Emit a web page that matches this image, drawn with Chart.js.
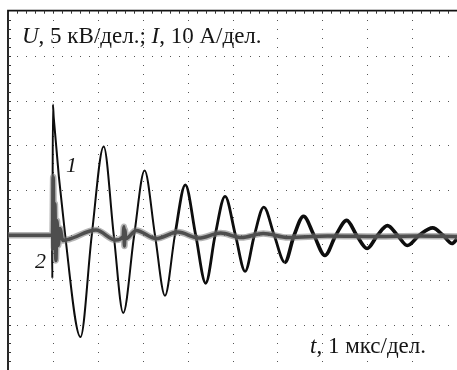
<!DOCTYPE html>
<html lang="ru">
<head>
<meta charset="UTF-8">
<title>Осциллограмма U, I</title>
<script src="https://cdn.jsdelivr.net/npm/chart.js"></script>
<style>
  html, body { margin: 0; padding: 0; background: #fff; overflow: hidden; }
  #scope { display: block; }
</style>
</head>
<body>
<canvas id="scope" width="457" height="370"></canvas>
<script>
// time in мкс (1 мкс/дел.), 10 divisions across
const timeDivs = [0, 1, 2, 3, 4, 5, 6, 7, 8, 9, 10];
// voltage axis in кВ (5 кВ/дел.), 8 divisions, zero 3 div above bottom
const voltTicks = [-15, -10, -5, 0, 5, 10, 15, 20, 25];
// current axis in А (10 А/дел.)
const currMin = -30, currMax = 50;

// curve 1: U, кВ (peaks, troughs and zero crossings)
const u_t = [0, 0.98, 0.987, 1.0, 1.018, 1.274, 1.615, 1.865, 2.131, 2.356, 2.566, 2.81, 3.042, 3.274, 3.496, 3.717,
  3.949, 4.181, 4.403, 4.613, 4.834, 5.066, 5.281, 5.487, 5.697, 5.929, 6.166, 6.372, 6.582, 6.814, 7.058,
  7.301, 7.544, 7.765, 7.998, 8.23, 8.451, 8.673, 8.894, 9.159, 9.458, 9.69, 9.889, 10];
const u_kV = [0, 0, -4.79, 14.57, 13.13, 0, -11.32, 0, 9.89, 0, -8.66, 0, 7.21, 0, -6.73, 0,
  5.61, 0, -5.34, 0, 4.34, 0, -4.02, 0, 3.14, 0, -3.02, 0, 2.12, 0, -2.25,
  0, 1.66, 0, -1.47, 0, 1.07, 0, -1.14, 0, 0.82, 0, -0.92, -0.4];

// curve 2: I, А
const i_t = [0, 0.991, 1.007, 1.024, 1.044, 1.066, 1.091, 1.117, 1.162, 1.217, 1.372, 1.958, 2.4, 2.566, 2.58, 2.593,
  2.606, 2.622, 2.854, 3.296, 3.783, 4.248, 4.735, 5.2, 5.686, 6.239, 7.124, 8.23, 9.115, 10];
const i_A = [0, 0, 12.99, -2.94, 7.01, -5.6, 3.25, -2.28, 1.48, -1.17, -0.84, 1.15, -1.06, -0.3, 1.9, -2.4,
  1.2, -0.8, 1.04, -0.73, 0.71, -0.62, 0.49, -0.51, 0.38, -0.51, -0.18, -0.29, -0.18, -0.29];

const toPoints = (xs, ys) => xs.map((x, i) => ({ x: x, y: ys[i] }));

const FONT = '"Liberation Serif", "Times New Roman", serif';

function drawRuns(ctx, runs, x, y, size) {
  for (const [txt, italic] of runs) {
    ctx.font = (italic ? 'italic ' : '') + size + 'px ' + FONT;
    ctx.fillText(txt, x, y);
    x += ctx.measureText(txt).width;
  }
}

const graticule = {
  id: 'graticule',
  beforeDatasetsDraw(chart) {
    const ctx = chart.ctx;
    const xs = chart.scales.x, ys = chart.scales.y;
    const left = xs.getPixelForValue(0), right = xs.getPixelForValue(10);
    const top = ys.getPixelForValue(25), bottom = ys.getPixelForValue(-15);
    const dx = (right - left) / 50, dy = (bottom - top) / 40;
    ctx.save();
    ctx.fillStyle = '#555';
    // dotted grid lines
    timeDivs.slice(1).forEach(t => {
      const px = Math.round(xs.getPixelForValue(t));
      for (let k = 1; k < 40; k++) ctx.fillRect(px, Math.round(top + k * dy), 1, 1);
    });
    voltTicks.slice(0, -1).forEach(v => {
      const py = Math.round(ys.getPixelForValue(v));
      for (let k = 1; k < 50; k++) ctx.fillRect(Math.round(left + k * dx), py, 1, 1);
    });
    // solid frame with minor ticks
    ctx.strokeStyle = '#111';
    ctx.lineWidth = 1.8;
    ctx.beginPath();
    ctx.moveTo(left, bottom);
    ctx.lineTo(left, top);
    ctx.lineTo(right, top);
    ctx.stroke();
    ctx.lineWidth = 1;
    ctx.strokeStyle = '#333';
    ctx.beginPath();
    for (let k = 1; k < 50; k++) {
      const px = Math.round(left + k * dx) + 0.5;
      ctx.moveTo(px, top);
      ctx.lineTo(px, top + 3);
    }
    for (let k = 1; k < 40; k++) {
      const py = Math.round(top + k * dy) + 0.5;
      ctx.moveTo(left, py);
      ctx.lineTo(left + 3, py);
    }
    ctx.stroke();
    ctx.restore();
  },
  afterDatasetsDraw(chart) {
    const ctx = chart.ctx;
    ctx.save();
    ctx.fillStyle = '#151515';
    ctx.textBaseline = 'alphabetic';
    drawRuns(ctx, [['U', true], [', 5 кВ/дел.; ', false], ['I', true], [', 10 А/дел.', false]], 22, 43, 23);
    drawRuns(ctx, [['t', true], [', 1 мкс/дел.', false]], 310, 353, 23);
    drawRuns(ctx, [['1', true]], 66, 172, 22);
    drawRuns(ctx, [['2', true]], 35, 268, 22);
    ctx.restore();
  }
};

new Chart(document.getElementById('scope'), {
  type: 'line',
  data: {
    datasets: [
      {
        label: '2 (core)',
        data: toPoints(i_t, i_A),
        yAxisID: 'y2',
        borderColor: '#4e4e4e',
        borderWidth: 3.5,
        pointRadius: 0,
        cubicInterpolationMode: 'monotone',
        order: 0
      },
      {
        label: '2 (halo)',
        data: toPoints(i_t, i_A),
        yAxisID: 'y2',
        borderColor: 'rgba(120, 120, 120, 0.55)',
        borderWidth: 6.5,
        pointRadius: 0,
        cubicInterpolationMode: 'monotone',
        order: 1
      },
      {
        label: '1',
        data: toPoints(u_t, u_kV),
        yAxisID: 'y',
        borderColor: '#0d0d0d',
        borderWidth: 2,
        pointRadius: 0,
        cubicInterpolationMode: 'monotone',
        segment: {
          borderWidth: c => c.p0.parsed.x > 6 ? 3.6 : (c.p0.parsed.x > 3.5 ? 2.8 : 2)
        },
        order: 2
      }
    ]
  },
  options: {
    responsive: false,
    animation: false,
    events: [],
    layout: { padding: { left: 8, top: 10.7, right: -3, bottom: -2.3 } },
    plugins: { legend: { display: false }, tooltip: { enabled: false } },
    scales: {
      x: { type: 'linear', min: 0, max: 10, display: false },
      y: { min: voltTicks[0], max: voltTicks[voltTicks.length - 1], display: false },
      y2: { min: currMin, max: currMax, display: false }
    }
  },
  plugins: [graticule]
});
</script>
</body>
</html>
